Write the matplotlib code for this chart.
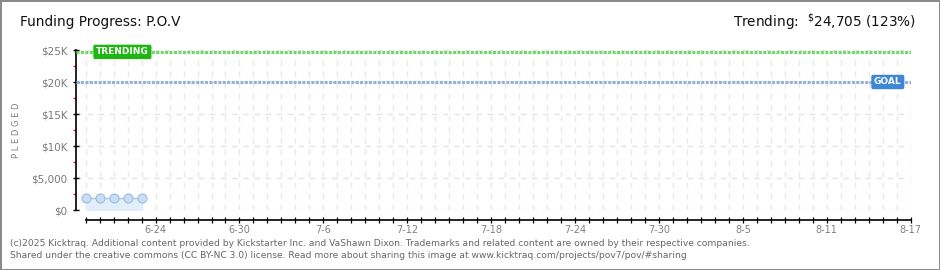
import pandas as pd
import matplotlib
matplotlib.use("Agg")
import matplotlib.pyplot as plt
import matplotlib.dates as mdates
import matplotlib.transforms as mtransforms
from matplotlib.ticker import FixedLocator, FuncFormatter

# data
pledge_dates = pd.to_datetime(["2025-06-19", "2025-06-20", "2025-06-21", "2025-06-22", "2025-06-23"])
pledged = [1950, 1950, 1950, 1950, 1950]
goal = 20000
trending = 24705
trend_pct = 123
start_date = pd.Timestamp("2025-06-19")
end_date = pd.Timestamp("2025-08-17")
label_dates = pd.date_range("2025-06-24", "2025-08-17", freq="6D")
y_ticks = [0, 5000, 10000, 15000, 20000, 25000]
y_labels = ["$0", "$5,000", "$10K", "$15K", "$20K", "$25K"]

narrow = ["Liberation Sans Narrow", "DejaVu Sans"]

fig = plt.figure(figsize=(9.4, 2.7), dpi=100, edgecolor="#8a8a8a", linewidth=2)
ax = fig.add_axes([76 / 940, 60 / 270, (910.7 - 76) / 940, 160 / 270])

x0 = mdates.date2num(start_date)
x1 = mdates.date2num(end_date)
ax.set_xlim(x0 - 0.69, x1)
ax.set_ylim(0, 25000)

# grid
ax.xaxis.set_major_locator(FixedLocator(mdates.date2num(label_dates)))
ax.xaxis.set_minor_locator(FixedLocator(mdates.date2num(pd.date_range(start_date, end_date, freq="D"))))
ax.xaxis.set_major_formatter(FuncFormatter(lambda v, p: f"{mdates.num2date(v).month}-{mdates.num2date(v).day}"))
ax.grid(axis="x", which="both", color="#e8e8e8", linestyle=(0, (4, 4)), linewidth=1)
ax.yaxis.set_major_locator(FixedLocator(y_ticks))
ax.yaxis.set_minor_locator(FixedLocator([2500, 7500, 12500, 17500, 22500]))
ax.set_yticklabels(y_labels)
ax.grid(axis="y", which="major", color="#e4e4e4", linestyle=(0, (4, 4)), linewidth=1)
ax.set_axisbelow(True)

# pledged
xs = mdates.date2num(pledge_dates)
ax.fill_between(xs, pledged, 0, color="#e3eefb", zorder=2)
ax.plot(xs, pledged, color="#a9c8ea", linewidth=1, zorder=3)
ax.plot(xs, pledged, "o", markersize=6.5, markerfacecolor="#c9def6", markeredgecolor="#9bbbe0",
        markeredgewidth=0.8, zorder=4)

# goal / trending lines
ax.axhline(trending, color="#6fd86a", linewidth=2.2, linestyle=(0, (1.0, 0.45)), zorder=3)
ax.axhline(goal, color="#93b3da", linewidth=2.2, linestyle=(0, (1.0, 0.45)), zorder=3)

blend = mtransforms.blended_transform_factory(fig.transFigure, ax.transData)
ax.text(96 / 940, trending, "TRENDING", transform=blend, ha="left", va="center",
        fontsize=6.5, color="white", fontweight="bold", zorder=5,
        bbox=dict(boxstyle="round,pad=0.3,rounding_size=0.2", facecolor="#1fb512", edgecolor="none"))
ax.text(874 / 940, goal, "GOAL", transform=blend, ha="left", va="center",
        fontsize=6.5, color="white", fontweight="bold", zorder=5,
        bbox=dict(boxstyle="round,pad=0.3,rounding_size=0.2", facecolor="#3d86d8", edgecolor="none"))

# spines and ticks
for s in ["top", "right"]:
    ax.spines[s].set_visible(False)
ax.spines["left"].set_linewidth(1.2)
ax.spines["bottom"].set_linewidth(1.2)
ax.spines["bottom"].set_position(("outward", 7.2))
ax.spines["bottom"].set_bounds(x0, x1)
ax.tick_params(axis="x", which="both", direction="inout", length=5, width=0.9, color="black",
               labelsize=7, labelcolor="#808080", pad=1)
ax.tick_params(axis="y", which="major", direction="inout", length=4, width=1.0, color="black",
               labelsize=7.5, labelcolor="#7a7a7a", pad=4)
ax.tick_params(axis="y", which="minor", direction="out", length=2.5, width=1.0, color="#ee1111")
ax.set_ylabel("P L E D G E D", fontsize=6, color="#808080")
ax.yaxis.set_label_coords((21 - 76) / 834.7, 0.5)

# texts
fig.text(20 / 940, 1 - 22 / 270, "Funding Progress: P.O.V", fontsize=9.8, color="#111111",
         ha="left", va="center", family=narrow)
fig.text(916 / 940, 1 - 22 / 270, f"Trending:  $^{{\\$}}${trending:,} ({trend_pct}%)", fontsize=9.8,
         color="#111111", ha="right", va="center", family=narrow)
fig.text(10 / 940, 1 - 243 / 270,
         "(c)2025 Kicktraq. Additional content provided by Kickstarter Inc. and VaShawn Dixon. "
         "Trademarks and related content are owned by their respective companies.",
         fontsize=6.6, color="#666666", ha="left", va="center")
fig.text(10 / 940, 1 - 256 / 270,
         "Shared under the creative commons (CC BY-NC 3.0) license. Read more about sharing this "
         "image at www.kicktraq.com/projects/pov7/pov/#sharing",
         fontsize=6.6, color="#666666", ha="left", va="center")

fig.savefig("out.png", dpi=100, edgecolor=fig.get_edgecolor())
